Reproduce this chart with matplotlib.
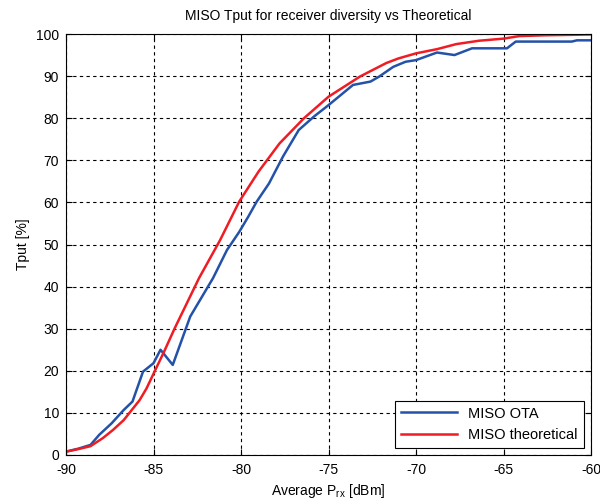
import matplotlib.pyplot as plt

plt.rcParams['font.family'] = ['Liberation Sans', 'DejaVu Sans']
plt.rcParams['axes.unicode_minus'] = False

ota_x = [-90, -89.3, -88.6, -88.1, -87.4, -86.7, -86.2, -85.6, -85.0, -84.6,
         -83.9, -82.9, -82.0, -81.6, -80.8, -80.1, -79.6, -79.1, -78.4, -77.6,
         -76.7, -75.8, -75.0, -73.6, -72.6, -72.1, -71.3, -70.6, -70.0, -68.8,
         -67.8, -66.8, -64.8, -64.3, -61.1, -60.8, -60.0]
ota_y = [0.8, 1.5, 2.4, 4.8, 7.5, 10.7, 12.7, 19.8, 21.8, 25.0,
         21.4, 32.9, 39.2, 42.0, 48.7, 53.0, 56.5, 60.2, 64.5, 70.9,
         77.2, 80.5, 83.1, 87.9, 88.7, 89.9, 92.2, 93.4, 93.8, 95.6,
         95.0, 96.6, 96.6, 98.2, 98.2, 98.5, 98.5]

# MISO theoretical
theo_x = [-90, -89.3, -88.6, -87.9, -87.3, -86.7, -85.8, -85.4, -85.0, -84.4,
          -83.8, -83.1, -82.4, -81.8, -81.2, -80.1, -79.0, -77.8, -76.4, -75.0,
          -73.2, -71.7, -71.0, -70.0, -68.8, -67.7, -66.4, -65.0, -64.1, -62.6,
          -61.1, -60.0]
theo_y = [0.8, 1.4, 2.1, 4.0, 6.0, 8.3, 13.0, 15.8, 19.3, 24.5,
          30.0, 36.0, 42.0, 46.5, 51.0, 60.2, 67.3, 74.0, 80.0, 85.1,
          89.9, 93.1, 94.2, 95.4, 96.4, 97.6, 98.4, 98.9, 99.5, 99.7,
          99.8, 99.9]

x_ticks = [-90, -85, -80, -75, -70, -65, -60]
y_ticks = [0, 10, 20, 30, 40, 50, 60, 70, 80, 90, 100]

fig = plt.figure(figsize=(6, 5), dpi=100)
ax = fig.add_axes([0.11, 0.09, 0.875, 0.842])

ax.plot(ota_x, ota_y, color='#2352a8', lw=1.8, label='MISO OTA')
ax.plot(theo_x, theo_y, color='#f01c24', lw=1.8, label='MISO theoretical')

ax.set_xlim(-90, -60)
ax.set_ylim(0, 100)
ax.set_xticks(x_ticks)
ax.set_yticks(y_ticks)
ax.grid(True, color='black', linestyle=(0, (3, 3)), linewidth=0.8)
ax.tick_params(direction='in', top=True, right=True, labelsize=10, length=4)
ax.tick_params(axis='x', pad=6)
ax.tick_params(axis='y', pad=5)
for s in ax.spines.values():
    s.set_linewidth(0.8)

ax.set_title('MISO Tput for receiver diversity vs Theoretical', fontsize=10, pad=10)
ax.set_xlabel('Average P$_{\\mathregular{rx}}$ [dBm]', fontsize=10, labelpad=3)
ax.set_ylabel('Tput [%]', fontsize=10, labelpad=4)

leg = ax.legend(loc='lower right', fontsize=10.5, fancybox=False, framealpha=1,
                edgecolor='black', handlelength=3.8, borderaxespad=0.5)
leg.get_frame().set_linewidth(0.8)

fig.savefig('out.png', dpi=100)
